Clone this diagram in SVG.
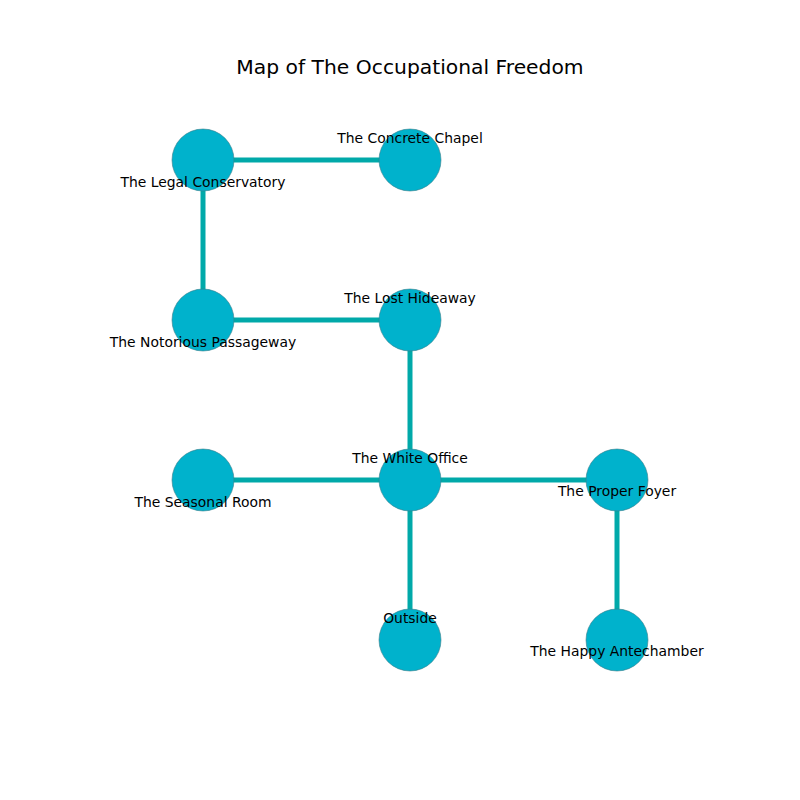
<svg xmlns="http://www.w3.org/2000/svg" width="800" height="800" viewBox="0 0 800 800">
<style>
.edge{stroke:#00a9a9;stroke-width:5;fill:none}
.node circle{fill:#00b2cc;stroke:#3a7d8a;stroke-width:0.6}
text{font-family:"DejaVu Sans",sans-serif;fill:#000}
.lbl{font-size:13.9px;text-anchor:middle}
.title{font-size:20.3px;text-anchor:middle}
</style>
<rect width="800" height="800" fill="#fff"/>
<text class="title" x="410" y="74">Map of The Occupational Freedom</text>
<g id="edges">
<line class="edge" x1="203" y1="160" x2="410" y2="160"/>
<line class="edge" x1="203" y1="160" x2="203" y2="320"/>
<line class="edge" x1="203" y1="320" x2="410" y2="320"/>
<line class="edge" x1="410" y1="320" x2="410" y2="480"/>
<line class="edge" x1="203" y1="480" x2="617" y2="480"/>
<line class="edge" x1="410" y1="480" x2="410" y2="640"/>
<line class="edge" x1="617" y1="480" x2="617" y2="640"/>
</g>
<g id="n1" class="node"><circle cx="203" cy="160" r="31"/><text class="lbl" x="203" y="187">The Legal Conservatory</text></g>
<g id="n2" class="node"><circle cx="410" cy="160" r="31"/><text class="lbl" x="410" y="143">The Concrete Chapel</text></g>
<g id="n3" class="node"><circle cx="203" cy="320" r="31"/><text class="lbl" x="203" y="347">The Notorious Passageway</text></g>
<g id="n4" class="node"><circle cx="410" cy="320" r="31"/><text class="lbl" x="410" y="303">The Lost Hideaway</text></g>
<g id="n5" class="node"><circle cx="203" cy="480" r="31"/><text class="lbl" x="203" y="507">The Seasonal Room</text></g>
<g id="n6" class="node"><circle cx="410" cy="480" r="31"/><text class="lbl" x="410" y="463">The White Office</text></g>
<g id="n7" class="node"><circle cx="617" cy="480" r="31"/><text class="lbl" x="617" y="496">The Proper Foyer</text></g>
<g id="n8" class="node"><circle cx="410" cy="640" r="31"/><text class="lbl" x="410" y="623">Outside</text></g>
<g id="n9" class="node"><circle cx="617" cy="640" r="31"/><text class="lbl" x="617" y="656">The Happy Antechamber</text></g>
</svg>
